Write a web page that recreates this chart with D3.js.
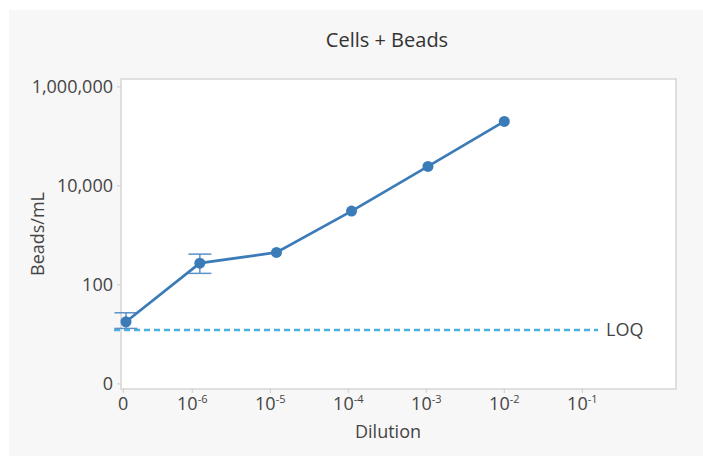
<!DOCTYPE html>
<html><head><meta charset="utf-8">
<script src="https://cdn.jsdelivr.net/npm/d3@7"></script>
<style>
html,body{margin:0;padding:0;background:#fff;}
svg{display:block;font-family:"Open Sans",sans-serif;}
</style></head>
<body><svg id="c" width="703" height="456"></svg>
<script>
// ---- data ----
const dilutionLabels = ["0", "-6", "-5", "-4", "-3", "-2", "-1"];
const dilutionTicks = [0, 1e-6, 1e-5, 1e-4, 1e-3, 1e-2, 1e-1];
const dilution = [0, 1.25e-6, 1.2e-5, 1.1e-4, 1.05e-3, 1.0e-2];
const beadsPerML = [17.6, 269, 443, 3030, 24200, 196000];
const errLow = [12.9, 167, null, null, null, null];
const errHigh = [26.7, 409, null, null, null, null];
const yTicks = [1, 100, 10000, 1000000];
const yTickLabels = ["0", "100", "10,000", "1,000,000"];
const loq = 12;
const title = "Cells + Beads";

// ---- layout ----
const svg = d3.select("#c");
const L = 121, R = 676, T = 79, B = 389;
const zeroExp = -6.85;

svg.append("rect").attr("x", 9).attr("y", 10).attr("width", 694).attr("height", 446).attr("fill", "#f7f7f7");
svg.append("rect").attr("x", L).attr("y", T).attr("width", R - L).attr("height", B - T)
  .attr("fill", "#fff").attr("stroke", "#d6d6d6").attr("stroke-width", 1.5);

const xe = d3.scaleLinear().domain([-6.914, 0.201]).range([L, R]);
const x = d => xe(d === 0 ? zeroExp : Math.log10(d));
const y = d3.scaleLog().domain([0.771, 1.41e6]).range([B, T]);

// y axis
const yAxis = svg.append("g").attr("transform", `translate(${L},0)`)
  .call(d3.axisLeft(y).tickValues(yTicks).tickFormat((d, i) => yTickLabels[i]).tickSize(4).tickPadding(4));
yAxis.select(".domain").remove();
yAxis.selectAll("line").attr("stroke", "#ccc");
yAxis.selectAll("text").attr("font-size", 18).attr("fill", "#444").attr("font-family", "Open Sans");

// x axis
const xAxis = svg.append("g").attr("transform", `translate(0,${B})`);
dilutionTicks.forEach((t, i) => {
  const g = xAxis.append("g").attr("transform", `translate(${i === 0 ? xe(-6.885) : x(t)},0)`);
  g.append("line").attr("y1", 0).attr("y2", 4).attr("stroke", "#ccc");
  const tx = g.append("text").attr("y", 21).attr("text-anchor", "middle")
    .attr("font-size", 18).attr("fill", "#444");
  if (i === 0) tx.text(dilutionLabels[i]);
  else {
    tx.append("tspan").text("10");
    tx.append("tspan").attr("font-size", 11).attr("dy", -7).text(dilutionLabels[i]);
  }
});

// titles
svg.append("text").attr("x", 387).attr("y", 47).attr("text-anchor", "middle")
  .attr("font-size", 20).attr("fill", "#333").text(title);
svg.append("text").attr("x", 388).attr("y", 438).attr("text-anchor", "middle")
  .attr("font-size", 18).attr("fill", "#444").text("Dilution");
svg.append("text").attr("transform", `translate(44,${(T + B) / 2}) rotate(-90)`).attr("text-anchor", "middle")
  .attr("font-size", 18).attr("fill", "#444").text("Beads/mL");

// LOQ line
svg.append("line").attr("x1", 114).attr("x2", 598).attr("y1", y(loq)).attr("y2", y(loq))
  .attr("stroke", "#4db0e2").attr("stroke-width", 2.5).attr("stroke-dasharray", "6,4");
svg.append("text").attr("x", 606).attr("y", y(loq) + 6).attr("font-size", 18).attr("fill", "#444").text("LOQ");

// series
const pts = dilution.map((d, i) => ({x: d, y: beadsPerML[i], lo: errLow[i], hi: errHigh[i]}));
const col = "#3b7bb8";
pts.filter(p => p.lo != null).forEach(p => {
  const cx = x(p.x);
  svg.append("line").attr("x1", cx).attr("x2", cx).attr("y1", y(p.lo)).attr("y2", y(p.hi)).attr("stroke", "#5b92c8").attr("stroke-width", 1.5);
  [p.lo, p.hi].forEach(v => svg.append("line").attr("x1", cx - 11.5).attr("x2", cx + 11.5).attr("y1", y(v)).attr("y2", y(v))
    .attr("stroke", "#5b92c8").attr("stroke-width", 1.5));
});
svg.append("path").datum(pts).attr("fill", "none").attr("stroke", col).attr("stroke-width", 2.7)
  .attr("d", d3.line().x(p => x(p.x)).y(p => y(p.y)));
svg.selectAll("circle.pt").data(pts).join("circle").attr("class", "pt")
  .attr("cx", p => x(p.x)).attr("cy", p => y(p.y)).attr("r", 5.5).attr("fill", col);
</script></body></html>
